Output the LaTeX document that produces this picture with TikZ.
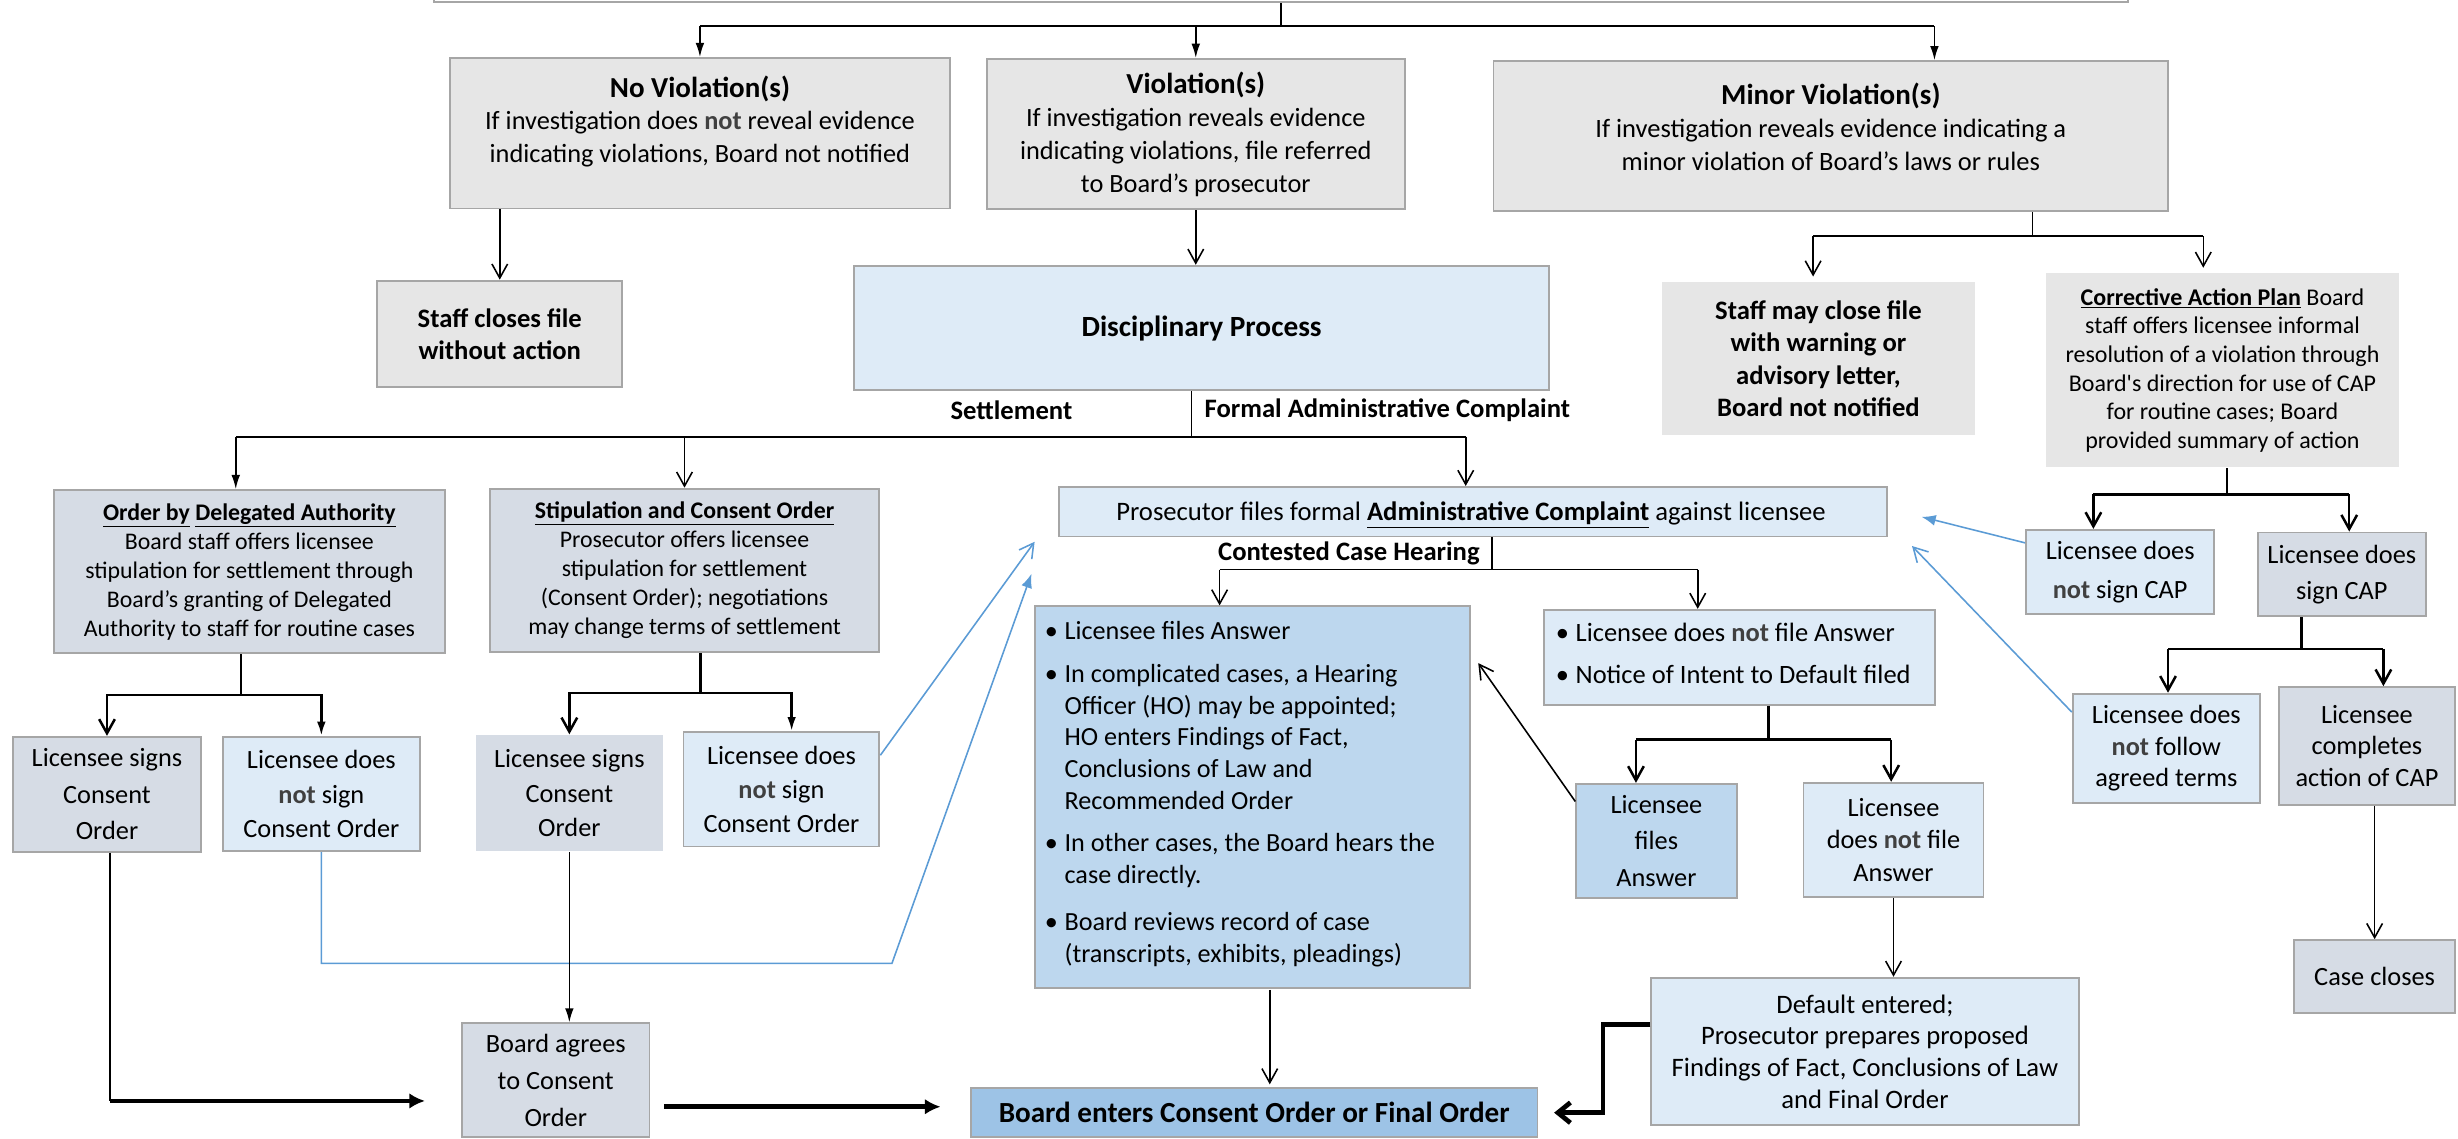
\documentclass[tikz,border=0pt]{standalone}
\usepackage{fontspec}
\setmainfont{Carlito}
\usetikzlibrary{arrows.meta}
\definecolor{cgray}{HTML}{E6E6E6}
\definecolor{cbg}{HTML}{D6DCE5}
\definecolor{clb}{HTML}{DEEBF7}
\definecolor{cmb}{HTML}{BDD7EE}
\definecolor{cdb}{HTML}{9DC3E6}
\definecolor{cborder}{HTML}{A6A6A6}
\definecolor{cblue}{HTML}{5B9BD5}
\definecolor{cnot}{HTML}{404040}
\newcommand\notb{\textbf{\textcolor{cnot}{not}}}
\newcommand\bulA{\makebox[12.6pt][l]{\textbullet}}
\newcommand\indA{\hspace*{12.6pt}}
\newcommand\fsz[2]{\fontsize{#1}{#2}\selectfont}
\tikzset{
  box/.style={draw=cborder, line width=1.2pt, inner sep=0pt, align=center},
  conn/.style={line width=1pt, draw=black},
  farr/.style={conn, -{Latex[length=9pt,width=5.5pt]}},
  oarr/.style={conn, -{Straight Barb[length=9pt,width=10pt]}},
  tree/.style={line width=1.6pt},
  thk/.style={line width=3pt, draw=black},
  thkf/.style={thk, -{Latex[length=10pt,width=10pt]}},
  thko/.style={thk, -{Straight Barb[length=8pt,width=13pt]}},
  bl/.style={line width=1pt, draw=cblue},
  bfarr/.style={bl, -{Latex[length=9pt,width=7pt]}},
  boarr/.style={bl, -{Straight Barb[length=9pt,width=10pt]}}
}
\begin{document}
\begin{tikzpicture}[x=1pt,y=-1pt]
\useasboundingbox (0,0) rectangle (1568,726);

% ---- boxes ----
\node[box, fill=white, minimum width=1081pt, minimum height=40pt, anchor=south west] (top) at (276,2) {};

\node[box, fill=cgray, minimum width=319pt, minimum height=96pt] (noviol) at (446.5,85) {};
\node[font=\fsz{16.8}{21}, align=center] (noviolT) at (446.5,77.5) {{\fsz{18.5}{21}\bfseries No Violation(s)}\\If investigation does \notb{} reveal evidence\\indicating violations, Board not notified};

\node[box, fill=cgray, minimum width=266.8pt, minimum height=96pt, font=\fsz{16.8}{21}] (viol) at (762.8,85.5) {{\fsz{18.5}{21}\bfseries Violation(s)}\\If investigation reveals evidence\\indicating violations, file referred\\to Board’s prosecutor};

\node[box, fill=cgray, minimum width=430.3pt, minimum height=95.5pt] (minor) at (1167.9,86.75) {};
\node[font=\fsz{16.9}{21}, align=center] (minorT) at (1167.9,81) {{\fsz{18.5}{21}\bfseries Minor Violation(s)}\\If investigation reveals evidence indicating a\\minor violation of Board’s laws or rules};

\node[box, fill=cgray, minimum width=156.4pt, minimum height=68pt, font=\fsz{17}{20.5}\bfseries] (staffclose) at (318.8,213) {Staff closes file\\without action};

\node[box, fill=clb, minimum width=443pt, minimum height=79.5pt, font=\fsz{18.7}{22}\bfseries] (disc) at (766.5,209.25) {Disciplinary Process};

\node[box, draw=none, fill=cgray, minimum width=200pt, minimum height=97.5pt, font=\fsz{17}{20.6}\bfseries] (staffmay) at (1160,228.75) {Staff may close file\\with warning or\\advisory letter,\\Board not notified};

\node[box, draw=none, fill=cgray, minimum width=225.5pt, minimum height=123.6pt, font=\fsz{15.3}{18.3}] (cap) at (1417.75,236.2) {\underline{\textbf{Corrective Action Plan}} Board\\staff offers licensee informal\\resolution of a violation through\\Board\textquotesingle s direction for use of CAP\\for routine cases; Board\\provided summary of action};

\node[font=\fsz{17}{20}\bfseries] (settle) at (645.2,261.5) {Settlement};
\node[font=\fsz{17}{20}\bfseries] (formal) at (885,261.5) {Formal Administrative Complaint};

\node[box, fill=cbg, minimum width=249.8pt, minimum height=104.2pt, font=\fsz{15.2}{18.5}] (orderda) at (159.1,364.7) {\underline{\textbf{Order by}} \underline{\textbf{Delegated Authority}}\\Board staff offers licensee\\stipulation for settlement through\\Board’s granting of Delegated\\Authority to staff for routine cases};

\node[box, fill=cbg, minimum width=248.7pt, minimum height=104.3pt, font=\fsz{15.2}{18.5}] (stip) at (436.65,363.85) {\underline{\textbf{Stipulation and Consent Order}}\\Prosecutor offers licensee\\stipulation for settlement\\(Consent Order); negotiations\\may change terms of settlement};

\node[box, fill=clb, minimum width=528.1pt, minimum height=31.6pt] (ac) at (939.45,326.4) {};
\node[font=\fsz{17}{20}] (acT) at (938.4,328.5) {Prosecutor files formal \underline{\textbf{Administrative Complaint}} against licensee};

\node[font=\fsz{17}{20}\bfseries] (contested) at (860.5,352.8) {Contested Case Hearing};

\node[box, fill=cbg, minimum width=119.5pt, minimum height=73.3pt, font=\fsz{16.8}{23.4}] (lsign1) at (68.25,506.65) {Licensee signs\\Consent\\Order};
\node[box, fill=clb, minimum width=126pt, minimum height=73pt, font=\fsz{16.8}{22}] (lnot1) at (205,506.5) {Licensee does\\\notb{} sign\\Consent Order};
\node[box, draw=none, fill=cbg, minimum width=119.6pt, minimum height=74pt, font=\fsz{16.8}{22}] (lsign2) at (363.2,506) {Licensee signs\\Consent\\Order};
\node[box, fill=clb, minimum width=125pt, minimum height=73pt, font=\fsz{16.8}{21.5}] (lnot2) at (498.5,503.5) {Licensee does\\\notb{} sign\\Consent Order};

\node[box, fill=cmb, minimum width=278pt, minimum height=243.2pt] (big) at (799,508.4) {};
\node[anchor=west, align=left, font=\fsz{16.7}{20.3}] (bigT) at (663,506.5) {\bulA Licensee files Answer\\[7.3pt]\bulA In complicated cases, a Hearing\\\indA Officer (HO) may be appointed;\\\indA HO enters Findings of Fact,\\\indA Conclusions of Law and\\\indA Recommended Order\\[6.7pt]\bulA In other cases, the Board hears the\\\indA case directly.\\[9.7pt]\bulA Board reviews record of case\\\indA (transcripts, exhibits, pleadings)};

\node[box, fill=clb, minimum width=249.5pt, minimum height=60.7pt] (rbul) at (1109.75,419.35) {};
\node[anchor=west, align=left, font=\fsz{16.9}{27}] (rbulT) at (989,417) {\bulA Licensee does \notb{} file Answer\\\bulA Notice of Intent to Default filed};

\node[box, fill=cmb, minimum width=102.3pt, minimum height=73pt, font=\fsz{16.8}{23}] (lfiles) at (1056.65,536.5) {Licensee\\files\\Answer};
\node[box, fill=clb, minimum width=114.8pt, minimum height=72.9pt, font=\fsz{16.8}{20.6}] (lnotfile) at (1207.9,535.75) {Licensee\\does \notb{} file\\Answer};

\node[box, fill=clb, minimum width=120.2pt, minimum height=53.7pt, font=\fsz{16.8}{24.6}] (notcap) at (1352.5,364.85) {Licensee does\\\notb{} sign CAP};
\node[box, fill=cbg, minimum width=107.4pt, minimum height=53.5pt, font=\fsz{16.8}{23}] (signcap) at (1493.9,366.45) {Licensee does\\sign CAP};
\node[box, fill=clb, minimum width=119.5pt, minimum height=69.8pt, font=\fsz{16.8}{20}] (notfollow) at (1381.95,477.4) {Licensee does\\\notb{} follow\\agreed terms};
\node[box, fill=cbg, minimum width=112.2pt, minimum height=75.2pt, font=\fsz{16.8}{20}] (completes) at (1509.9,475.9) {Licensee\\completes\\action of CAP};
\node[box, fill=cbg, minimum width=102.4pt, minimum height=46.3pt, font=\fsz{16.8}{20}] (caseclose) at (1514.8,622.85) {Case closes};

\node[box, fill=cbg, minimum width=119.6pt, minimum height=72.5pt, font=\fsz{16.8}{23.6}] (agrees) at (354.5,689.05) {Board agrees\\to Consent\\Order};
\node[box, fill=cdb, minimum width=361.4pt, minimum height=31pt, font=\fsz{18.6}{22}\bfseries] (final) at (800.1,709.8) {Board enters Consent Order or Final Order};
\node[box, fill=clb, minimum width=272.6pt, minimum height=94pt, font=\fsz{17}{20.2}] (default) at (1189.7,670.7) {Default entered;\\Prosecutor prepares proposed\\Findings of Fact, Conclusions of Law\\and Final Order};

% ---- connectors ----
\coordinate (tL) at (446.5,16.6);
\coordinate (tR) at (1234,16.6);
\draw[conn] (top.south) -- (top.south |- tL);
\draw[conn] (tL) -- (tR);
\draw[farr] (tL) -- (noviol.north);
\draw[farr] (viol.north |- tL) -- (viol.north);
\draw[farr] (tR) -- (tR |- minor.north);

\draw[oarr] (staffclose.north |- noviol.south) -- (staffclose.north);
\draw[oarr] (viol.south) -- (viol.south |- disc.north);

\coordinate (mJ) at (1296.6,150.6);
\coordinate (mL) at (1156.6,150.6);
\coordinate (mR) at (1405.5,150.6);
\draw[conn] (minor.south -| mJ) -- (mJ);
\draw[conn] (mL) -- (mR);
\draw[oarr, shorten >=3pt] (mL) -- (mL |- staffmay.north);
\draw[oarr, shorten >=3pt] (mR) -- (mR |- cap.north);

\coordinate (dJ) at (760,278.6);
\coordinate (sL) at (150.4,278.6);
\coordinate (sR) at (935,278.6);
\draw[conn] (disc.south -| dJ) -- (dJ);
\draw[conn] (sL) -- (sR);
\draw[farr] (sL) -- (sL |- orderda.north);
\draw[oarr] (stip.north |- sL) -- (stip.north);
\draw[oarr] (sR) -- (sR |- ac.north);

\coordinate (oJ) at (153.8,443.4);
\draw[conn, tree] (orderda.south -| oJ) -- (oJ);
\draw[oarr, tree] (oJ) -| (lsign1.north);
\draw[farr, tree] (oJ) -| (lnot1.north);

\coordinate (pJ) at (447,442);
\coordinate (pR) at (505,442);
\draw[conn, tree] (stip.south -| pJ) -- (pJ);
\draw[oarr, tree] (pJ) -| (lsign2.north);
\draw[farr, tree] (pJ) -- (pR) -- (pR |- lnot2.north);

\coordinate (acL1) at (660,345.6);
\coordinate (acL2) at (658,366);
\coordinate (bC) at (569,614.5);
\draw[boarr] (lnot2.19) -- (acL1);
\draw[bfarr] (lnot1.south) |- (bC) -- (acL2);
\coordinate (acR1) at (1225.8,329.7);
\coordinate (acR2) at (1219.7,348.3);
\draw[bfarr] (notcap.163.5) -- (acR1);
\draw[boarr] (notfollow.159.9) -- (acR2);

\coordinate (cJ) at (1420.6,315.3);
\coordinate (cL) at (1335.4,315.3);
\coordinate (cR) at (1498.6,315.3);
\draw[conn, tree] (cap.south -| cJ) -- (cJ);
\draw[conn, tree] (cL) -- (cR);
\draw[oarr, tree] (cL) -- (cL |- notcap.north);
\draw[oarr, tree] (cR) -- (cR |- signcap.north);

\coordinate (gJ) at (1468.3,414);
\coordinate (gL) at (1383,414);
\coordinate (gR) at (1520.4,414);
\draw[conn, tree] (signcap.south -| gJ) -- (gJ);
\draw[conn, tree] (gL) -- (gR);
\draw[oarr, tree] (gL) -- (gL |- notfollow.north);
\draw[oarr, tree] (gR) -- (gR |- completes.north);

\draw[oarr] (caseclose.north |- completes.south) -- (caseclose.north);

\coordinate (aJ) at (951.8,363.3);
\coordinate (aL) at (778,363.3);
\coordinate (aR) at (1083,363.3);
\draw[conn] (ac.south -| aJ) -- (aJ);
\draw[conn] (aL) -- (aR);
\draw[oarr] (aL) -- (aL |- big.north);
\draw[oarr] (aR) -- (aR |- rbul.north);

\coordinate (rJ) at (1128,471.8);
\coordinate (rL) at (1043.6,471.8);
\coordinate (rR) at (1206.4,471.8);
\draw[conn, tree] (rbul.south -| rJ) -- (rJ);
\draw[conn, tree] (rL) -- (rR);
\draw[oarr, tree] (rL) -- (rL |- lfiles.north);
\draw[oarr, tree] (rR) -- (rR |- lnotfile.north);

\coordinate (bigIn) at (943,423);
\draw[oarr] (lfiles.154.4) -- (bigIn);

\draw[oarr] (lnotfile.south) -- (lnotfile.south |- default.north);

\coordinate (dk) at (1022.6,653.4);
\draw[thko, shorten >=10pt] (default.west |- dk) -- (dk) |- (final.east);

\coordinate (l1c) at (70,702.3);
\draw[conn] (lsign1.south -| l1c) -- (l1c);
\draw[thkf, shorten >=23pt] (l1c) -- (l1c -| agrees.west);
\draw[farr] (lsign2.south) -- (lsign2.south |- agrees.north);
\coordinate (af) at (423.7,706);
\draw[thkf, shorten >=18.8pt] (af) -- (af -| final.west);
\coordinate (bf) at (810,631.5);
\draw[oarr, shorten >=2pt] (bf) -- (bf |- final.north);
\end{tikzpicture}
\end{document}
